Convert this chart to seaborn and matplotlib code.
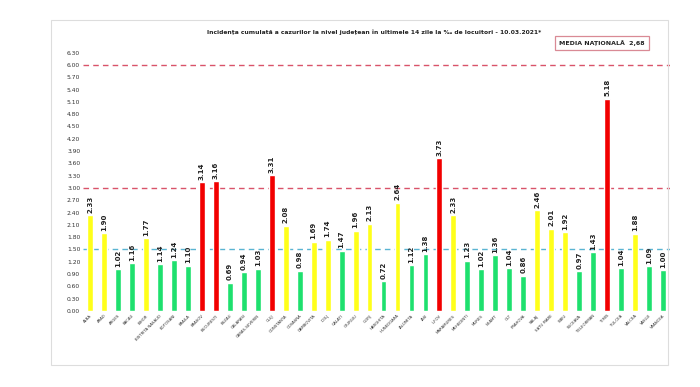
import matplotlib
matplotlib.use("Agg")
import matplotlib.pyplot as plt
import seaborn as sns
import pandas as pd
from matplotlib.patches import Rectangle

# date judete - incidenta 14 zile la mia de locuitori
judete = ['ALBA', 'ARAD', 'ARGES', 'BACAU', 'BIHOR', 'BISTRITA NASAUD', 'BOTOSANI',
          'BRAILA', 'BRASOV', 'BUCURESTI', 'BUZAU', 'CALARASI', 'CARAS-SEVERIN', 'CLUJ',
          'CONSTANTA', 'COVASNA', 'DAMBOVITA', 'DOLJ', 'GALATI', 'GIURGIU', 'GORJ',
          'HARGHITA', 'HUNEDOARA', 'IALOMITA', 'IASI', 'ILFOV', 'MARAMURES', 'MEHEDINTI',
          'MURES', 'NEAMT', 'OLT', 'PRAHOVA', 'SALAJ', 'SATU MARE', 'SIBIU', 'SUCEAVA',
          'TELEORMAN', 'TIMIS', 'TULCEA', 'VALCEA', 'VASLUI', 'VRANCEA']
incidenta = [2.33, 1.90, 1.02, 1.16, 1.77, 1.14, 1.24, 1.10, 3.14, 3.16, 0.69, 0.94,
             1.03, 3.31, 2.08, 0.98, 1.69, 1.74, 1.47, 1.96, 2.13, 0.72, 2.64, 1.12,
             1.38, 3.73, 2.33, 1.23, 1.02, 1.36, 1.04, 0.86, 2.46, 2.01, 1.92, 0.97,
             1.43, 5.18, 1.04, 1.88, 1.09, 1.00]
praguri = [1.5, 3.0, 6.0]
media = "2,68"

df = pd.DataFrame({'judet': judete, 'val': incidenta})

def culoare(v):
    if v >= 3.0:
        return '#f20000'
    if v >= 1.5:
        return '#ffff1a'
    return '#1ee06e'

culori = [culoare(v) for v in df.val]

fig = plt.figure(figsize=(7, 3.87), dpi=100)
sns.set_style("white")
ax = fig.add_axes([0.1186, 0.1964, 0.8386, 0.673])

sns.barplot(data=df, x='judet', y='val', hue='judet', palette=culori, legend=False,
            width=0.42, ax=ax, saturation=1)

for i, v in enumerate(df.val):
    ax.text(i, v + 0.06, f"{v:.2f}", rotation=90, ha='center', va='bottom',
            fontsize=5, fontweight='bold', color='#222222')

ax.axhline(praguri[0], color='#5ab4d2', linestyle=(0, (4, 3)), linewidth=1, zorder=0)
ax.axhline(praguri[1], color='#d9536a', linestyle=(0, (4, 3)), linewidth=1, zorder=0)
ax.axhline(praguri[2], color='#d9536a', linestyle=(0, (4, 3)), linewidth=1, zorder=0)

ax.set_xlim(-0.5, len(judete) - 0.5)
ax.set_ylim(0, 6.35)
ax.set_yticks([i * 0.3 for i in range(22)])
ax.set_yticklabels([f"{i * 0.3:.2f}" for i in range(22)], fontsize=4.3, color='#333333')
ax.set_xticks(range(len(judete)))
ax.set_xticklabels(judete, rotation=45, ha='right', rotation_mode='anchor',
                   fontsize=2.8, color='#333333')
ax.tick_params(axis='both', length=0, pad=2)
ax.set_xlabel('')
ax.set_ylabel('')
sns.despine(ax=ax, left=True, bottom=True)

# rama exterioara
fig.patches.append(Rectangle((51 / 700, 1 - 365 / 387), 617 / 700, 345 / 387,
                             transform=fig.transFigure, fill=False,
                             edgecolor='#dddddd', linewidth=0.8))

fig.text(0.535, 1 - 32 / 387,
         "Incidența cumulată a cazurilor la nivel județean în ultimele 14 zile la ‰ de locuitori - 10.03.2021*",
         ha='center', va='center', fontsize=4.3, fontweight='bold', color='#222222')

fig.text(602 / 700, 1 - 43 / 387, f"MEDIA NAȚIONALĂ  {media}", ha='center', va='center',
         fontsize=4.5, fontweight='bold', color='#222222',
         bbox=dict(boxstyle='square,pad=0.7', facecolor='white', edgecolor='#d98a95',
                   linewidth=0.9))

fig.savefig('out.png', dpi=100)
